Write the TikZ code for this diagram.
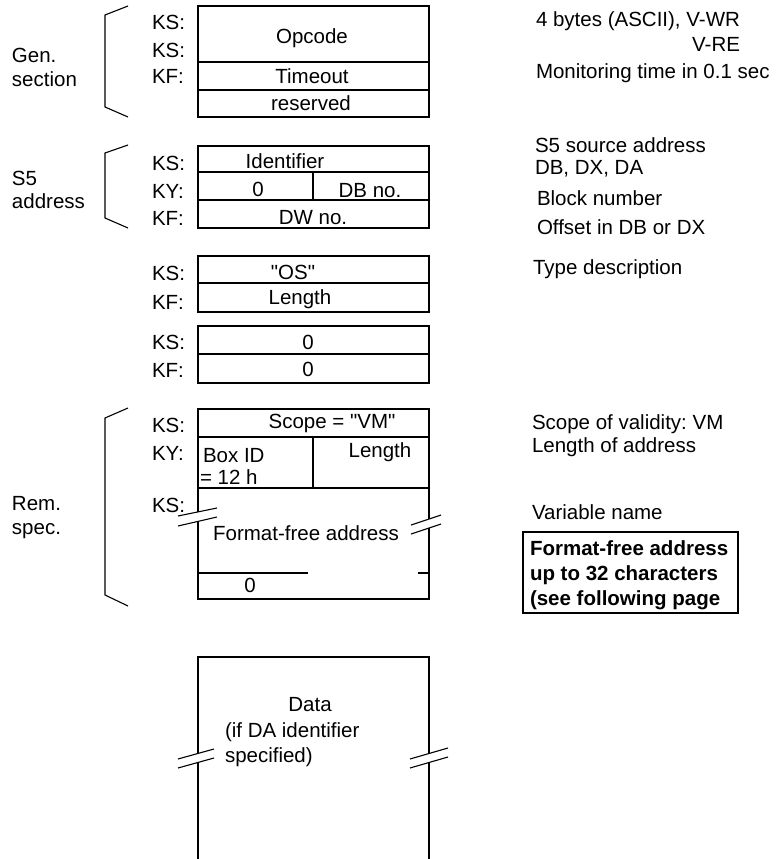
\documentclass[tikz,border=0pt]{standalone}
\usepackage{fontspec}
\setmainfont{Liberation Sans}
\frenchspacing
\begin{document}
\begin{tikzpicture}[x=1pt,y=-1pt,
  t/.style={inner sep=0pt, outer sep=0pt, font=\fontsize{20.5}{25}\selectfont\frenchspacing},
  tb/.style={t, font=\fontsize{20.5}{25}\selectfont\bfseries\frenchspacing},
  ln/.style={line width=1.1pt, line cap=butt, line join=miter},
  brk/.style={line width=1.1pt, line cap=butt}]
\useasboundingbox (0,0) rectangle (777,859);

% ---------- brackets ----------
\draw[ln] (128,6) -- (105,15) -- (105,107) -- (128,117);
\draw[ln] (128,145) -- (105,153) -- (105,218) -- (128,228);
\draw[ln] (128,408) -- (105,418) -- (105,595) -- (128,606);

% ---------- section labels ----------
\node[t, anchor=base west] (gen1) at (12,63) {Gen.};
\node[t, anchor=base west] (gen2) at (12,86) {section};
\node[t, anchor=base west] (s51) at (12,185) {S5};
\node[t, anchor=base west] (s52) at (12,208) {address};
\node[t, anchor=base west] (rem1) at (12,510) {Rem.};
\node[t, anchor=base west] (rem2) at (12,534) {spec.};

% ---------- general section ----------
\draw[ln] (198,6) rectangle (429,117);
\draw[ln] (198,62) -- (429,62);
\draw[ln] (198,90) -- (429,90);
\node[t, anchor=base west] (ga) at (152,30) {KS:};
\node[t, anchor=base west] (gb) at (152,57) {KS:};
\node[t, anchor=base west] (gc) at (152,84) {KF:};
\node[t, anchor=base] (opc) at (312,44) {Opcode};
\node[t, anchor=base] (tmo) at (312,83) {Timeout};
\node[t, anchor=base] (res) at (311,110) {reserved};

% ---------- S5 address ----------
\draw[ln] (198,146) rectangle (429,228);
\draw[ln] (198,172) -- (429,172);
\draw[ln] (198,200) -- (429,200);
\draw[ln] (313,172) -- (313,200);
\node[t, anchor=base west] (sa) at (152,170) {KS:};
\node[t, anchor=base west] (sb) at (152,198) {KY:};
\node[t, anchor=base west] (sc) at (152,225) {KF:};
\node[t, anchor=base] (ident) at (285,168) {Identifier};
\node[t, anchor=base] (zs) at (258,196) {0};
\node[t, anchor=base] (dbno) at (370,197) {DB no.};
\node[t, anchor=base] (dwno) at (313,224) {DW no.};

% ---------- "OS" / Length ----------
\draw[ln] (198,256) rectangle (429,312);
\draw[ln] (198,283) -- (429,283);
\node[t, anchor=base west] (oa) at (152,280) {KS:};
\node[t, anchor=base west] (ob) at (152,309) {KF:};
\node[t, anchor=base] (os) at (293,279) {\textquotedbl OS\textquotedbl};
\node[t, anchor=base] (olen) at (300,304) {Length};

% ---------- 0 / 0 ----------
\draw[ln] (198,326) rectangle (429,383);
\draw[ln] (198,354) -- (429,354);
\node[t, anchor=base west] (za) at (152,349) {KS:};
\node[t, anchor=base west] (zb) at (152,377) {KF:};
\node[t, anchor=base] (z1) at (308,349) {0};
\node[t, anchor=base] (z2) at (308,376) {0};

% ---------- remote specification ----------
\draw[ln] (198,512) -- (198,409) -- (429,409) -- (429,519);
\draw[ln] (198,521) -- (198,599) -- (429,599) -- (429,528);
\draw[ln] (198,437) -- (429,437);
\draw[ln] (198,488) -- (429,488);
\draw[ln] (313,437) -- (313,488);
\draw[ln] (198,573) -- (308,573);
\draw[ln] (418,573) -- (429,573);
\draw[brk] (178,516) -- (217,508);
\draw[brk] (178,526) -- (217,517);
\draw[brk] (411,525) -- (441,515);
\draw[brk] (411,534) -- (441,524);
\node[t, anchor=base west] (ra) at (152,432) {KS:};
\node[t, anchor=base west] (rb) at (152,460) {KY:};
\node[t, anchor=base west] (rc) at (152,512) {KS:};
\node[t, anchor=base] (scope) at (332,428) {Scope = \textquotedbl VM\textquotedbl};
\node[t, anchor=base west] (boxid) at (203,462) {Box ID};
\node[t, anchor=base west] (boxid2) at (200,484) {= 12 h};
\node[t, anchor=base] (rlen) at (380,457) {Length};
\node[t, anchor=base] (ffa) at (306,540) {Format-free address};
\node[t, anchor=base] (rz) at (250,592) {0};

% ---------- data ----------
\draw[ln] (198,753.5) -- (198,657) -- (429,657) -- (429,753.5);
\draw[ln] (198,762.5) -- (198,859);
\draw[ln] (429,762.5) -- (429,859);
\draw[brk] (178,759) -- (214,749);
\draw[brk] (178,768) -- (214,758);
\draw[brk] (410,759) -- (448,748);
\draw[brk] (410,768) -- (448,757);
\node[t, anchor=base] (data) at (310,711) {Data};
\node[t, anchor=base west] (data2) at (225,737) {(if DA identifier};
\node[t, anchor=base west] (data3) at (225,762) {specified)};

% ---------- right-hand comments ----------
\node[t, anchor=base west] (c1) at (536,27) {4 bytes (ASCII), V-WR};
\node[t, anchor=base east] (c2) at (740,52) {V-RE};
\node[t, anchor=base west] (c3) at (536,78) {Monitoring time in 0.1 sec};
\node[t, anchor=base west] (c4) at (535,152) {S5 source address};
\node[t, anchor=base west] (c5) at (535,174) {DB, DX, DA};
\node[t, anchor=base west] (c6) at (537,205) {Block number};
\node[t, anchor=base west] (c7) at (537,234) {Offset in DB or DX};
\node[t, anchor=base west] (c8) at (533,274) {Type description};
\node[t, anchor=base west] (c9) at (532,429) {Scope of validity: VM};
\node[t, anchor=base west] (c10) at (532,452) {Length of address};
\node[t, anchor=base west] (c11) at (532,519) {Variable name};
\draw[ln] (523,532) rectangle (738,613);
\node[tb, anchor=base west] (n1) at (530,555) {Format-free address};
\node[tb, anchor=base west] (n2) at (530,580) {up to 32 characters};
\node[tb, anchor=base west] (n3) at (530,605) {(see following page};
\end{tikzpicture}
\end{document}
